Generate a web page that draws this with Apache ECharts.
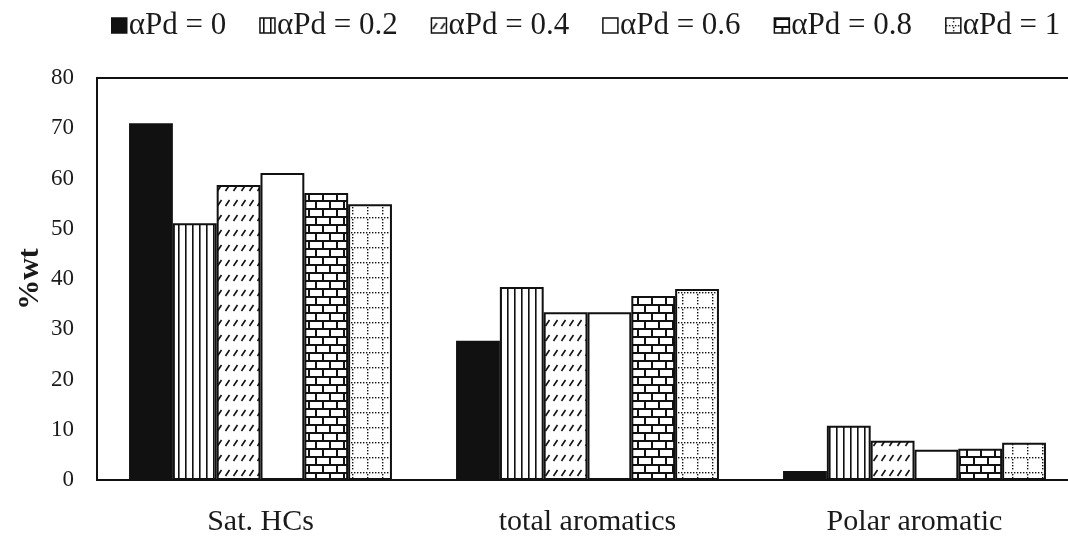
<!DOCTYPE html>
<html>
<head>
<meta charset="utf-8">
<script src="https://cdn.jsdelivr.net/npm/echarts@6/dist/echarts.min.js"></script>
<style>
html,body{margin:0;padding:0;background:#fff;}
#chart{width:1068px;height:542px;}
</style>
</head>
<body>
<div id="chart"></div>
<script>
const categories = ['Sat. HCs', 'total aromatics', 'Polar aromatic'];
const seriesNames = ['\u03b1Pd = 0', '\u03b1Pd = 0.2', '\u03b1Pd = 0.4', '\u03b1Pd = 0.6', '\u03b1Pd = 0.8', '\u03b1Pd = 1'];
const pd0  = [71.0, 27.7, 1.8];
const pd02 = [51.1, 38.4, 10.8];
const pd04 = [58.7, 33.4, 7.8];
const pd06 = [61.1, 33.4, 6.0];
const pd08 = [57.1, 36.6, 6.2];
const pd1  = [54.9, 38.0, 7.4];
const yTicks = [0, 10, 20, 30, 40, 50, 60, 70, 80];

function tile(w, h, draw) {
  const c = document.createElement('canvas');
  c.width = w; c.height = h;
  const ctx = c.getContext('2d');
  ctx.fillStyle = '#fff';
  ctx.fillRect(0, 0, w, h);
  ctx.strokeStyle = '#111';
  ctx.fillStyle = '#111';
  draw(ctx);
  return { image: c, repeat: 'repeat' };
}
const patVert = tile(7, 4, ctx => { ctx.fillRect(3, 0, 1.6, 4); });
const patHatch = tile(8, 15, ctx => {
  ctx.lineWidth = 1.6;
  ctx.beginPath(); ctx.moveTo(1.5, 11); ctx.lineTo(5.5, 5); ctx.stroke();
});
const patBrick = tile(28, 16, ctx => {
  ctx.fillRect(0, 0, 28, 2);
  ctx.fillRect(0, 8, 28, 2);
  ctx.fillRect(0, 0, 2, 8);
  ctx.fillRect(14, 0, 2, 8);
  ctx.fillRect(7, 8, 2, 8);
  ctx.fillRect(21, 8, 2, 8);
});
const patDots = tile(15, 15, ctx => {
  for (let i = 0; i < 15; i += 3) {
    ctx.fillRect(i, 7, 1.4, 1.4);
    if (i !== 6) ctx.fillRect(7, i, 1.4, 1.4);
  }
});
const fills = ['#111', patVert, patHatch, '#fff', patBrick, patDots];
const dataSets = [pd0, pd02, pd04, pd06, pd08, pd1];

const chart = echarts.init(document.getElementById('chart'), null, { renderer: 'canvas' });
const font = '"Liberation Serif", "Times New Roman", serif';
chart.setOption({
  animation: false,
  backgroundColor: '#fff',
  textStyle: { fontFamily: font },
  legend: {
    top: 5,
    left: 106,
    itemWidth: 15,
    itemHeight: 15,
    itemGap: 33,
    icon: 'rect',
    textStyle: { fontFamily: font, fontSize: 31, color: '#1a1a1a', padding: [0, 0, 0, -3] },
    itemStyle: { borderColor: '#111', borderWidth: 1.5 },
    data: seriesNames
  },
  grid: { left: 97, top: 78, bottom: 62, width: 981, show: true, borderColor: '#111', borderWidth: 2, containLabel: false, outerBoundsMode: 'none' },
  xAxis: {
    type: 'category',
    data: categories,
    axisLine: { lineStyle: { color: '#111', width: 2 } },
    axisTick: { show: false },
    axisLabel: { fontFamily: font, fontSize: 30, color: '#1a1a1a', margin: 27 }
  },
  yAxis: {
    type: 'value',
    min: yTicks[0], max: yTicks[yTicks.length - 1], interval: 10,
    name: '%wt',
    nameLocation: 'middle',
    nameGap: 52,
    nameMoveOverlap: false,
    nameTextStyle: { fontFamily: font, fontSize: 30, fontWeight: 'bold', color: '#1a1a1a' },
    axisLine: { show: true, lineStyle: { color: '#111', width: 2 } },
    axisTick: { show: false },
    splitLine: { show: false },
    axisLabel: { fontFamily: font, fontSize: 23, color: '#1a1a1a', margin: 23 }
  },
  series: dataSets.map((d, i) => ({
    name: seriesNames[i],
    type: 'bar',
    data: d,
    barGap: '0%',
    barCategoryGap: '19.6%',
    itemStyle: { color: fills[i], borderColor: '#111', borderWidth: 2 }
  }))
});
</script>
</body>
</html>
